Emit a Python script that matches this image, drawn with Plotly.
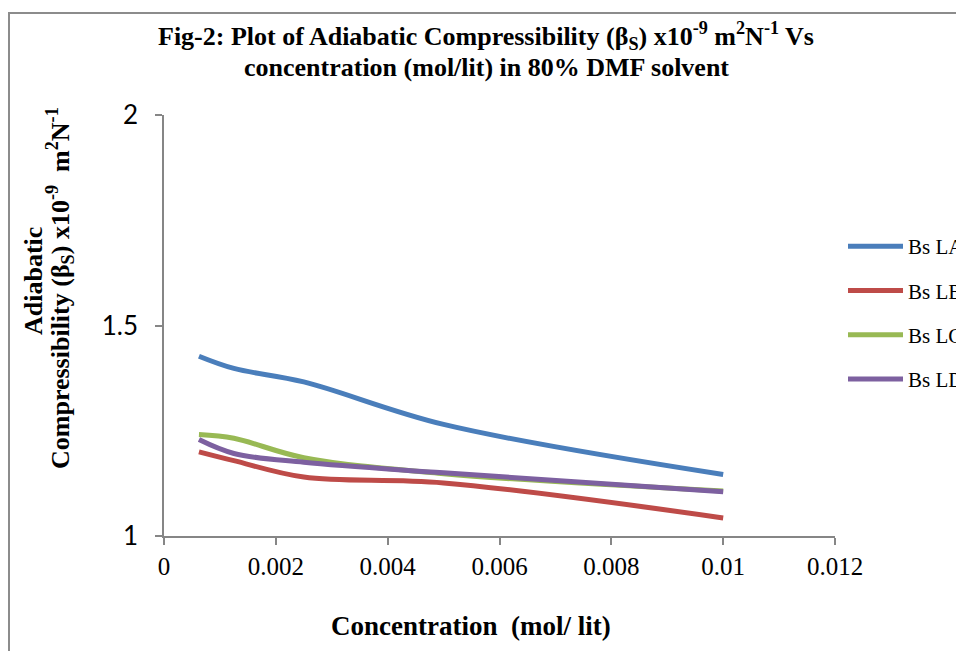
import plotly.graph_objects as go

# Data
conc = [0.000625, 0.00125, 0.0025, 0.005, 0.01]
bs_la = [1.427, 1.398, 1.366, 1.265, 1.146]
bs_lb = [1.200, 1.179, 1.140, 1.126, 1.043]
bs_lc = [1.241, 1.232, 1.186, 1.148, 1.107]
bs_ld = [1.229, 1.196, 1.175, 1.150, 1.105]
series_names = ["Bs LA", "Bs LB", "Bs LC", "Bs LD"]
series_colors = ["#4A7EBB", "#BE4B48", "#98B954", "#7D60A0"]

x_ticks = [0, 0.002, 0.004, 0.006, 0.008, 0.01, 0.012]
x_tick_labels = ["0", "0.002", "0.004", "0.006", "0.008", "0.01", "0.012"]
y_ticks = [1, 1.5, 2]
y_tick_labels = ["1", "1.5", "2"]

W, H = 956, 651
L, R, T, B = 164, 835, 115, 536  # plot area in pixels

def px_x(p):
    return (p - L) / (R - L)

def px_y(p):
    return (B - p) / (B - T)

fig = go.Figure()
for i, (name, vals, col) in enumerate(zip(series_names, [bs_la, bs_lb, bs_lc, bs_ld], series_colors)):
    fig.add_trace(go.Scatter(
        x=conc, y=vals, name=name, mode="lines",
        line=dict(color=col, width=5, shape="spline", smoothing=1),
        legendgroup=f"g{i}",
    ))

serif = "Liberation Serif, Times New Roman, serif"
title_font = dict(family=serif, size=26, color="black")
fig.update_layout(
    width=W, height=H,
    margin=dict(l=L, r=W - R, t=T, b=H - B, autoexpand=False),
    paper_bgcolor="white", plot_bgcolor="white",
    showlegend=True,
    legend=dict(
        x=px_x(843), y=px_y(226), xanchor="left", yanchor="top",
        font=dict(family=serif, size=21, color="black"),
        tracegroupgap=14, itemwidth=55, bgcolor="rgba(0,0,0,0)",
    ),
    xaxis=dict(
        range=[0, 0.012], tickvals=x_ticks, ticktext=x_tick_labels,
        tickfont=dict(family=serif, size=25, color="black"),
        ticks="outside", ticklen=7, tickcolor="#868686", tickwidth=1.5,
        ticklabelstandoff=0,
        showline=True, linecolor="#868686", linewidth=1.5,
        showgrid=False, zeroline=False,
    ),
    yaxis=dict(
        range=[1, 2], tickvals=y_ticks, ticktext=y_tick_labels,
        tickfont=dict(family="Lato, Liberation Sans, sans-serif", size=26, color="black"),
        ticks="outside", ticklen=7, tickcolor="#868686", tickwidth=1.5,
        ticklabelstandoff=12,
        showline=True, linecolor="#868686", linewidth=1.5,
        showgrid=False, zeroline=False,
    ),
    shapes=[dict(
        type="rect", xref="paper", yref="paper",
        x0=px_x(9), x1=px_x(1200), y0=px_y(900), y1=px_y(13),
        line=dict(color="#8C8C8C", width=2), fillcolor="rgba(0,0,0,0)", layer="below",
    )],
    annotations=[
        dict(text="<b>Fig-2: Plot of Adiabatic Compressibility (β<sub>S</sub>) x10<sup>-9</sup> m<sup>2</sup>N<sup>-1</sup> Vs</b>",
             xref="paper", yref="paper", x=px_x(486), y=px_y(36), xanchor="center", yanchor="middle",
             showarrow=False, font=title_font),
        dict(text="<b>concentration (mol/lit) in 80% DMF solvent</b>",
             xref="paper", yref="paper", x=px_x(486), y=px_y(67), xanchor="center", yanchor="middle",
             showarrow=False, font=title_font),
        dict(text="<b>Concentration  (mol/ lit)</b>",
             xref="paper", yref="paper", x=px_x(471), y=px_y(626), xanchor="center", yanchor="middle",
             showarrow=False, font=dict(family=serif, size=27, color="black")),
        dict(text="<b>Adiabatic</b>",
             xref="paper", yref="paper", x=px_x(33), y=px_y(281), xanchor="center", yanchor="middle",
             textangle=-90, showarrow=False, font=title_font),
        dict(text="<b>Compressibility (β<sub>S</sub>) x10<sup>-9</sup>  m<sup>2</sup>N<sup>-1</sup></b>",
             xref="paper", yref="paper", x=px_x(60), y=px_y(288), xanchor="center", yanchor="middle",
             textangle=-90, showarrow=False, font=title_font),
    ],
)

fig.write_html("out.html", config={"displayModeBar": False},
               post_script="document.body.style.margin='0px';document.body.style.overflow='hidden';")
